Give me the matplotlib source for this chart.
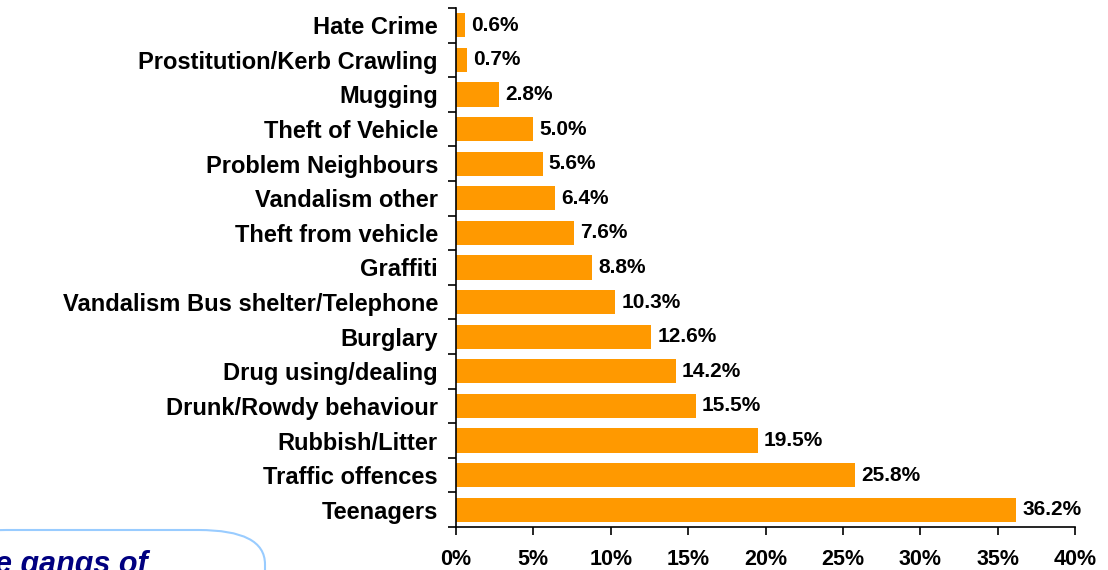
import matplotlib.pyplot as plt
import matplotlib.ticker as mtick
from matplotlib.patches import FancyBboxPatch

plt.rcParams['font.family'] = ['Liberation Sans', 'DejaVu Sans']
plt.rcParams['font.weight'] = 'bold'

# categories listed bottom to top
categories = ['Teenagers', 'Traffic offences', 'Rubbish/Litter', 'Drunk/Rowdy behaviour',
              'Drug using/dealing', 'Burglary', 'Vandalism Bus shelter/Telephone', 'Graffiti',
              'Theft from vehicle', 'Vandalism other', 'Problem Neighbours', 'Theft of Vehicle',
              'Mugging', 'Prostitution/Kerb Crawling', 'Hate Crime']
values = [36.2, 25.8, 19.5, 15.5, 14.2, 12.6, 10.3, 8.8, 7.6, 6.4, 5.6, 5.0, 2.8, 0.7, 0.6]
xticks = [0, 5, 10, 15, 20, 25, 30, 35, 40]

fig = plt.figure(figsize=(11.08, 5.7), dpi=100)
ax = fig.add_axes([456/1108, 1 - 527/570, (1075-456)/1108, (527-8)/570])

y = range(len(categories))
ax.barh(y, values, height=0.70, color='#FF9900')
for i, v in enumerate(values):
    ax.text(v + 0.4, i, f'{v:.1f}%', va='center', ha='left', fontsize=15, fontweight='bold')

ax.set_xlim(0, 40)
ax.set_ylim(-0.5, len(categories) - 0.5)
ax.set_xticks(xticks)
ax.xaxis.set_major_formatter(mtick.FuncFormatter(lambda v, p: f'{v:.0f}%'))
ax.set_yticks(y)
ax.set_yticklabels(categories, fontsize=17, fontweight='bold')
ax.tick_params(axis='y', length=0, pad=13)
ax.set_yticks([i - 0.5 for i in range(len(categories) + 1)], minor=True)
ax.tick_params(axis='y', which='minor', length=6, width=1.2)
ax.tick_params(axis='x', length=6, width=1.2, pad=10)
for lbl in ax.get_xticklabels():
    lbl.set_fontweight('bold')
    lbl.set_fontsize(15.5)
for s in ['top', 'right']:
    ax.spines[s].set_visible(False)
ax.spines['left'].set_linewidth(1.2)
ax.spines['bottom'].set_linewidth(1.2)

# partly visible callout box at the bottom left
box = FancyBboxPatch((-60/1108, -60/570), 325/1108, 100/570, transform=fig.transFigure,
                     boxstyle='round,pad=0,rounding_size=0.06', facecolor='white',
                     edgecolor='#99CCFF', linewidth=1.5, clip_on=False)
fig.patches.append(box)
fig.text(148/1108, 1 - 573/570, 'e gangs of', fontsize=22, fontweight='bold', style='italic',
         color='#000080', ha='right', va='baseline')

fig.savefig('out.png', dpi=100)
